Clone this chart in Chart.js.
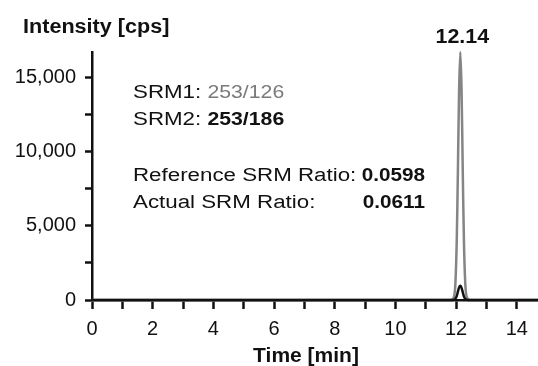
<!DOCTYPE html>
<html>
<head>
<meta charset="utf-8">
<script src="https://cdn.jsdelivr.net/npm/chart.js@4/dist/chart.umd.min.js"></script>
<style>
  html, body { margin: 0; padding: 0; background: #fff; }
  #wrap { width: 538px; height: 366px; position: relative; }
</style>
</head>
<body>
<div id="wrap"><canvas id="chart" width="538" height="366"></canvas></div>
<script>
// retention time (min) and intensities (cps)
const times = [0, 11.82, 11.88, 11.94, 11.98, 12.02, 12.06, 12.10, 12.14, 12.18, 12.22, 12.26, 12.30, 12.34, 12.40, 12.46, 14.7];
const srm1 = [0, 0, 40, 280, 1230, 3840, 8690, 14190, 16700, 14190, 8690, 3840, 1230, 280, 40, 0, 0];
const srm2 = [0, 0, 0, 20, 90, 260, 560, 850, 960, 820, 520, 230, 80, 20, 0, 0, 0];

const xTicks = [0, 1, 2, 3, 4, 5, 6, 7, 8, 9, 10, 11, 12, 13, 14];
const xLabels = ['0', '', '2', '', '4', '', '6', '', '8', '', '10', '', '12', '', '14'];
const yTicks = [0, 2500, 5000, 7500, 10000, 12500, 15000];
const yLabels = ['0', '', '5,000', '', '10,000', '', '15,000'];

const peakTime = 12.14;
const peakLabel = '12.14';
const srmLabels = ['SRM1: ', 'SRM2: '];
const srmTransitions = ['253/126', '253/186'];
const ratioLabels = ['Reference SRM Ratio: ', 'Actual SRM Ratio:'];
const ratioValues = ['0.0598', '0.0611'];

const FONT = '"Liberation Sans", Arial, Helvetica, sans-serif';

function pts(ys) {
  return times.map((t, i) => ({ x: t, y: ys[i] }));
}

// draws a string squeezed/stretched horizontally
function stretchText(ctx, text, x, y, sx, align) {
  const w = ctx.measureText(text).width * sx;
  const left = align === 'right' ? x - w : align === 'center' ? x - w / 2 : x;
  ctx.save();
  ctx.translate(left, y);
  ctx.scale(sx, 1);
  ctx.textAlign = 'left';
  ctx.fillText(text, 0, 0);
  ctx.restore();
  return left + w;
}

const textPlugin = {
  id: 'texts',
  afterDraw(chart) {
    const ctx = chart.ctx;
    const xs = chart.scales.x, ys = chart.scales.y;
    ctx.save();
    ctx.textBaseline = 'alphabetic';
    ctx.fillStyle = '#111';

    ctx.font = 'bold 20px ' + FONT;
    stretchText(ctx, 'Intensity [cps]', 23, 33, 1.08, 'left');

    ctx.font = 'bold 21px ' + FONT;
    stretchText(ctx, 'Time [min]', 306, 362, 1.0, 'center');

    // peak label
    const peakVal = Math.max(...srm1);
    ctx.font = 'bold 20px ' + FONT;
    stretchText(ctx, peakLabel, xs.getPixelForValue(peakTime) + 2, ys.getPixelForValue(peakVal) - 9, 1.07, 'center');

    const sx = 1.24;
    const lines = [98, 125];
    srmLabels.forEach((lab, i) => {
      ctx.font = '18px ' + FONT;
      ctx.fillStyle = '#111';
      const end = stretchText(ctx, lab, 133, lines[i], sx, 'left');
      ctx.font = (i === 0 ? '' : 'bold ') + '18px ' + FONT;
      ctx.fillStyle = i === 0 ? '#7a7a7a' : '#111';
      stretchText(ctx, srmTransitions[i], end, lines[i], 1.18, 'left');
    });

    const rLines = [181, 208];
    ratioLabels.forEach((lab, i) => {
      ctx.font = '18px ' + FONT;
      ctx.fillStyle = '#111';
      stretchText(ctx, lab, 133, rLines[i], sx, 'left');
      ctx.font = 'bold 18px ' + FONT;
      stretchText(ctx, ratioValues[i], 425, rLines[i], 1.15, 'right');
    });
    ctx.restore();
  }
};

new Chart(document.getElementById('chart'), {
  type: 'line',
  data: {
    datasets: [
      {
        label: 'SRM2 253/186',
        data: pts(srm2),
        borderColor: '#111',
        borderWidth: 2.5,
        pointRadius: 0,
        tension: 0.3,
        clip: 4
      },
      {
        label: 'SRM1 253/126',
        data: pts(srm1),
        borderColor: '#858585',
        borderWidth: 2.5,
        pointRadius: 0,
        tension: 0.3,
        clip: 4
      }
    ]
  },
  options: {
    responsive: false,
    animation: false,
    devicePixelRatio: 1,
    layout: { padding: { top: 52, right: 0, left: 0, bottom: 0 } },
    plugins: {
      legend: { display: false },
      tooltip: { enabled: false }
    },
    scales: {
      x: {
        type: 'linear',
        min: 0,
        max: 14.7,
        afterBuildTicks(scale) {
          scale.ticks = xTicks.map(v => ({ value: v }));
        },
        afterFit(scale) { scale.height = 66; },
        ticks: {
          autoSkip: false,
          maxRotation: 0,
          padding: 8,
          color: '#111',
          font: { family: FONT, size: 20 },
          callback: (v, i) => xLabels[i]
        },
        grid: {
          drawOnChartArea: false,
          tickLength: 9,
          tickWidth: 2.5,
          tickColor: '#111'
        },
        border: { color: '#111', width: 2.5 }
      },
      y: {
        min: 0,
        max: 16700,
        afterBuildTicks(scale) {
          scale.ticks = yTicks.map(v => ({ value: v }));
        },
        afterFit(scale) { scale.width = 92; },
        ticks: {
          autoSkip: false,
          padding: 9,
          color: '#111',
          font: { family: FONT, size: 20 },
          callback: (v, i) => yLabels[i]
        },
        grid: {
          drawOnChartArea: false,
          tickLength: 7,
          tickWidth: 2.5,
          tickColor: '#111'
        },
        border: { color: '#111', width: 2.5 }
      }
    }
  },
  plugins: [textPlugin]
});
</script>
</body>
</html>
